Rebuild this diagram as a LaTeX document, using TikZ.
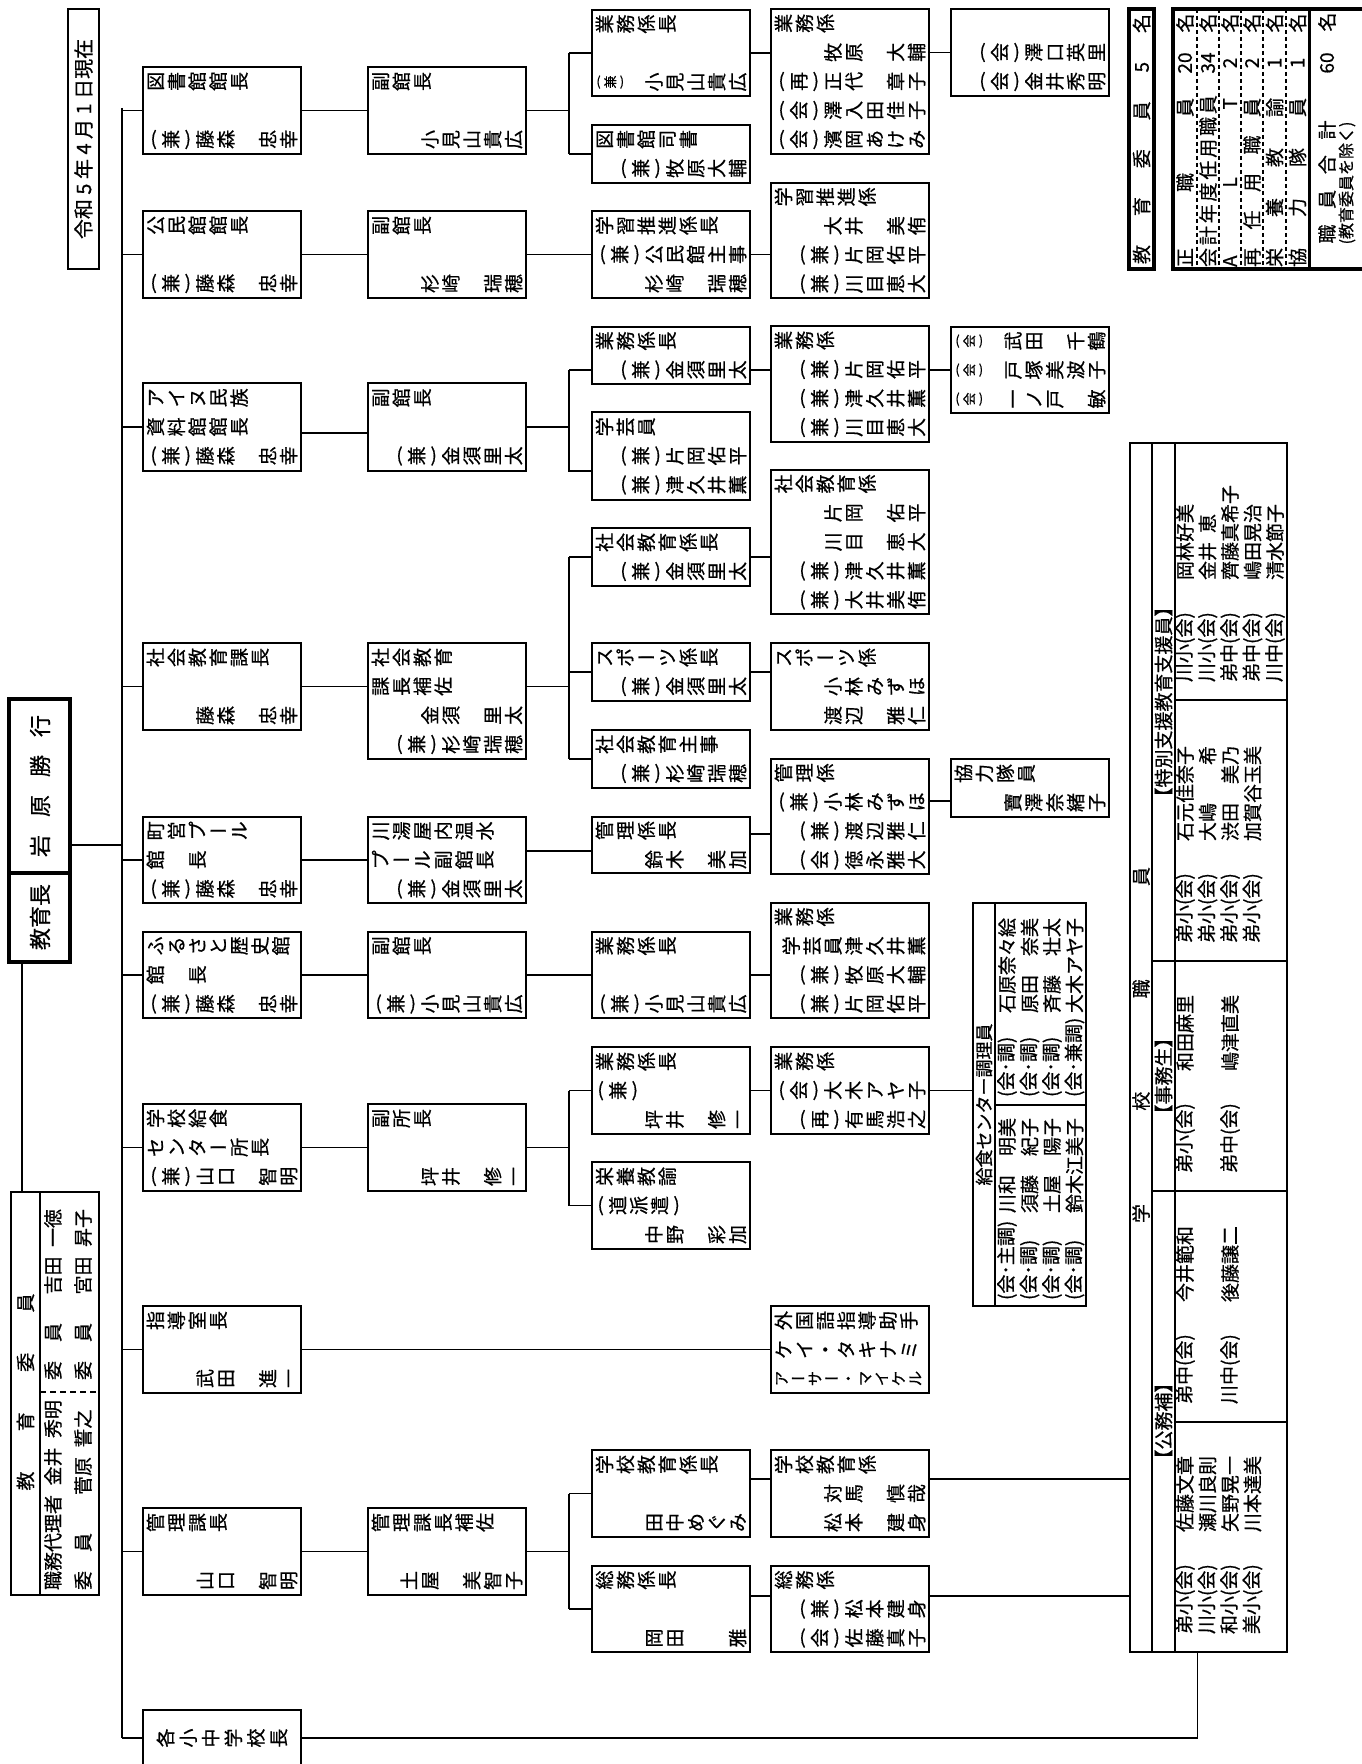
\documentclass[tikz,border=0pt]{standalone}
\usepackage{fontspec}
\setmainfont{Noto Sans CJK JP}
\newfontfamily\jp[FakeBold=0.6]{Noto Sans CJK JP}
\usepackage{graphicx}
\usetikzlibrary{calc}
\tikzset{
  bx/.style={draw,line width=0.65pt,anchor=north west,inner xsep=1pt,inner ysep=0pt,
    outer sep=0pt,text width=77pt,align=left,
    font=\jp\fontsize{9.5pt}{14.5pt}\selectfont},
  boxh/.style={minimum height={#1*0.5pt}},
  boxw/.style={minimum width={#1*0.5pt}},
  rt/.style={rotate=90,inner sep=0pt,outer sep=0pt,font=\jp\fontsize{9.5pt}{11pt}\selectfont},
  rl/.style={rt,anchor=west},
  frame/.style={draw,line width=0.65pt,anchor=north west,inner sep=0pt,outer sep=0pt},
  heavy/.style={line width=2pt},
  link/.style={line width=0.65pt},
  sep/.style={line width=1pt,dash pattern=on 2pt off 1.5pt},
  dn/.style={yshift={-(#1)*0.5pt}},
}
% glyphs turned a quarter, set one by one
\makeatletter
\newcommand\vtw{1.1em}
\newcommand\vt[2][1.1em]{\leavevmode\def\vtw{#1}\rule[-0.5em]{0pt}{1em}\vt@loop#2\vt@end}
\def\vt@end{}
\def\vt@loop#1{\ifx#1\vt@end\else\vt@one{#1}\expandafter\vt@loop\fi}
\def\vt@one#1{%
  \ifx#1（\vt@par{(}%
  \else\ifx#1）\vt@par{)}%
  \else\ifx#1ー\vt@flat{ー}%
  \else\ifx#1・\vt@flat{・}%
  \else\vt@rot{#1}%
  \fi\fi\fi\fi}
\def\vt@rot#1{\makebox[\vtw]{\raisebox{-0.5em}{\rotatebox{90}{\rule[-0.12em]{0pt}{1em}#1}}}}
\def\vt@flat#1{\makebox[\vtw]{\raisebox{-0.38em}{#1}}}
\def\vt@par#1{\makebox[0.7em]{\raisebox{-0.32em}{#1}}}
\makeatother
\newcommand\vtr[2][1.1em]{\mbox{}\hfill\vt[#1]{#2}}
\newcommand\vts[1]{\mbox{}{\fontsize{6.5pt}{7pt}\selectfont\vt{#1}}}

\begin{document}
\begin{tikzpicture}[x=0.5pt,y=-0.5pt]
\useasboundingbox (0,0) rectangle (1361,1764);
\fill[white] (0,0) rectangle (1361,1764);

% heads
\node[rt,draw,link,minimum width=130pt,minimum height=15.5pt,
  font=\jp\fontsize{10pt}{12pt}\selectfont] (date) at (83.5,139) {令和 5 年 4 月 1 日現在};
\node[frame,heavy,boxw=61,boxh=263] (kyo) at (9,699) {};
\draw[line width=1.6pt] (9,873) -- (70,873);
\node[rt,font=\jp\fontsize{11pt}{12pt}\selectfont] (kyoname) at (40,786)
  {\makebox[71pt][s]{岩 原 勝 行}};
\node[rt,font=\jp\fontsize{11pt}{12pt}\selectfont] (kyotitle) at (40,917) {教育長};

% board of education
\node[frame,boxw=88,boxh=403] (iin) at (11,1192) {};
\draw[link] (40,1192) -- (40,1595);
\draw[line width=1.2pt,dash pattern=on 3pt off 2pt] (40,1392) -- (99,1392);
\node[rt] (iinlbl) at (25.5,1392) {\makebox[98.5pt][s]{教 育 委 員}};
\node[rl] (iin1) at (53,1590) {職務代理者\enspace 金井\enspace 秀明};
\node[rl] (iin2) at (83,1590) {委　員　　菅原\enspace 誓之};
\node[rl] (iin3) at (53,1380) {委　員　\enspace 吉田\enspace 一徳};
\node[rl] (iin4) at (83,1380) {委　員　\enspace 宮田\enspace 昇子};

% first level
\node[bx,boxh=87] (lib1) at (143,67) {\vt{図書館館長}\\\vt{}\\\vtr{（兼）藤森　忠幸}};
\node[bx,boxh=87] (kou1) at (143,211) {\vt{公民館館長}\\\vt{}\\\vtr{（兼）藤森　忠幸}};
\node[bx,boxh=88] (ainu1) at (143,383) {\vt{アイヌ民族}\\\vt{資料館館長}\\\vtr{（兼）藤森　忠幸}};
\node[bx,boxh=87] (soc1) at (143,643) {\vt{社会教育課長}\\\vt{}\\\vtr{藤森　忠幸}};
\node[bx,boxh=86] (pool1) at (143,817) {\vt{町営プール}\\\vt{館　長}\\\vtr{（兼）藤森　忠幸}};
\node[bx,boxh=86] (furu1) at (143,932) {\vt{ふるさと歴史館}\\\vt{館　長}\\\vtr{（兼）藤森　忠幸}};
\node[bx,boxh=87] (kyu1) at (143,1104) {\vt{学校給食}\\\vt{センター所長}\\\vtr{（兼）山口　智明}};
\node[bx,boxh=87] (shi1) at (143,1306) {\vt{指導室長}\\\vt{}\\\vtr{武田　進一}};
\node[bx,boxh=87] (kan1) at (143,1508) {\vt{管理課長}\\\vt{}\\\vtr{山口　智明}};
\node[bx,boxh=56,align=center] (sch1) at (143,1710) {\vt[1.19em]{各小中学校長}};

% second level
\node[bx,boxh=87] (lib2) at (368,67) {\vt{副館長}\\\vt{}\\\vtr{小見山貴広}};
\node[bx,boxh=87] (kou2) at (368,211) {\vt{副館長}\\\vt{}\\\vtr{杉崎　瑞穂}};
\node[bx,boxh=88] (ainu2) at (368,383) {\vt{副館長}\\\vt{}\\\vtr{（兼）金須里太}};
\node[bx,boxh=116] (soc2) at (368,643) {\vt{社会教育}\\\vt{課長補佐}\\\vtr{金須　里太}\\\vtr{（兼）杉崎瑞穂}};
\node[bx,boxh=86] (pool2) at (368,817) {\vt{川湯屋内温水}\\\vt{プール副館長}\\\vtr{（兼）金須里太}};
\node[bx,boxh=86] (furu2) at (368,932) {\vt{副館長}\\\vt{}\\\vtr{（兼）小見山貴広}};
\node[bx,boxh=87] (kyu2) at (368,1104) {\vt{副所長}\\\vt{}\\\vtr{坪井　修一}};
\node[bx,boxh=87] (kan2) at (368,1508) {\vt{管理課長補佐}\\\vt{}\\\vtr{土屋　美智子}};

% third level
\node[bx,boxh=86] (lib3a) at (592,10) {\vt{業務係長}\\\vt{}\\\vts{（兼）}\hfill\vt{小見山貴広}};
\node[bx,boxh=58] (lib3b) at (592,125) {\vt{図書館司書}\\\vtr{（兼）牧原大輔}};
\node[bx,boxh=87] (kou3) at (592,211) {\vt{学習推進係長}\\\vtr{（兼）公民館主事}\\\vtr{杉崎　瑞穂}};
\node[bx,boxh=57] (ainu3a) at (592,327) {\vt{業務係長}\\\vtr{（兼）金須里太}};
\node[bx,boxh=88] (ainu3b) at (592,412) {\vt{学芸員}\\\vtr{（兼）片岡佑平}\\\vtr{（兼）津久井薫}};
\node[bx,boxh=58] (soc3a) at (592,528) {\vt{社会教育係長}\\\vtr{（兼）金須里太}};
\node[bx,boxh=58] (soc3b) at (592,643) {\vt{スポーツ係長}\\\vtr{（兼）金須里太}};
\node[bx,boxh=58] (soc3c) at (592,730) {\vt{社会教育主事}\\\vtr{（兼）杉崎瑞穂}};
\node[bx,boxh=56] (pool3) at (592,817) {\vt{管理係長}\\\vtr{鈴木　美加}};
\node[bx,boxh=86] (furu3) at (592,932) {\vt{業務係長}\\\vt{}\\\vtr{（兼）小見山貴広}};
\node[bx,boxh=87] (kyu3a) at (592,1047) {\vt{業務係長}\\\vt{（兼）}\\\vtr{坪井　修一}};
\node[bx,boxh=87] (kyu3b) at (592,1162) {\vt{栄養教諭}\\\vt{（道派遣）}\\\vtr{中野　彩加}};
\node[bx,boxh=87] (kan3a) at (592,1450) {\vt{学校教育係長}\\\vt{}\\\vtr{田中めぐみ}};
\node[bx,boxh=86] (kan3b) at (592,1566) {\vt{総務係長}\\\vt{}\\\vtr{岡田　　雅}};

% fourth level
\node[bx,boxh=145] (lib4) at (771,9) {\vt{業務係}\\\vtr{牧原　大輔}\\\vtr{（再）正代　章子}\\\vtr{（会）澤入田佳子}\\\vtr{（会）濱岡あけみ}};
\node[bx,boxh=115] (kou4) at (771,183) {\vt{学習推進係}\\\vtr{大井　美侑}\\\vtr{（兼）片岡佑平}\\\vtr{（兼）川目恵大}};
\node[bx,boxh=116] (ainu4) at (771,326) {\vt{業務係}\\\vtr{（兼）片岡佑平}\\\vtr{（兼）津久井薫}\\\vtr{（兼）川目恵大}};
\node[bx,boxh=144] (soc4) at (771,470) {\vt{社会教育係}\\\vtr{片岡　佑平}\\\vtr{川目　恵大}\\\vtr{（兼）津久井薫}\\\vtr{（兼）大井美侑}};
\node[bx,boxh=87] (spo4) at (771,643) {\vt{スポーツ係}\\\vtr{小林みずほ}\\\vtr{渡辺　雅仁}};
\node[bx,boxh=115] (pool4) at (771,759) {\vt{管理係}\\\vtr{（兼）小林みずほ}\\\vtr{（兼）渡辺雅仁}\\\vtr{（会）徳永雅大}};
\node[bx,boxh=115] (furu4) at (771,903) {\vt{業務係}\\\vtr{学芸員津久井薫}\\\vtr{（兼）牧原大輔}\\\vtr{（兼）片岡佑平}};
\node[bx,boxh=87] (kyu4) at (771,1047) {\vt{業務係}\\\vtr{（会）大木アヤ子}\\\vtr{（再）有馬浩之}};
\node[bx,boxh=87] (alt4) at (771,1306) {\vt{外国語指導助手}\\\vt{ケイ・タキナミ}\\\vt{}{\fontsize{7.6pt}{7.6pt}\selectfont\vt{アーサー・マイケル}}};
\node[bx,boxh=87] (kan4a) at (771,1450) {\vt{学校教育係}\\\vtr{対馬　慎哉}\\\vtr{松本　建身}};
\node[bx,boxh=86] (kan4b) at (771,1566) {\vt{総務係}\\\vtr{（兼）松本建身}\\\vtr{（会）佐藤真子}};

% fifth level
\node[bx,boxh=87] (lib5) at (951,9) {\vt{}\\\vtr{（会）澤口英里}\\\vtr{（会）金井秀明}};
\node[bx,boxh=86] (ainu5) at (951,327) {\vts{（会）}\hfill\vt{武田　千鶴}\\\vts{（会）}\hfill\vt{戸塚美波子}\\\vts{（会）}\hfill\vt{一ノ戸　敏}};
\node[bx,boxh=58] (pool5) at (951,759) {\vt{協力隊員}\\\vtr{寶澤奈緒子}};

% school lunch cooks
\node[frame,boxw=113,boxh=403] (chori) at (973,903) {};
\draw[link] (995,903) -- (995,1306);
\draw[link] (995,1105) -- (1086,1105);
\node[rt,font=\jp\fontsize{9pt}{11pt}\selectfont] (chorilbl) at (984,1104.5) {給食センター調理員};
\node[rl] (cu1) at (1007,1097) {(会･調)};    \node[rl] (cu1n) at (1007,1013) {石原奈々絵};
\node[rl] (cu2) at (1029.5,1097) {(会･調)};  \node[rl] (cu2n) at (1029.5,1013) {原田　奈美};
\node[rl] (cu3) at (1052,1097) {(会･調)};    \node[rl] (cu3n) at (1052,1013) {斉藤　壮太};
\node[rl] (cu4) at (1074.5,1097) {(会･兼調)}; \node[rl] (cu4n) at (1074.5,1013) {大木アヤ子};
\node[rl] (cl1) at (1007,1300) {(会･主調)};  \node[rl] (cl1n) at (1007,1213) {川和　明美};
\node[rl] (cl2) at (1029.5,1300) {(会･調)};  \node[rl] (cl2n) at (1029.5,1213) {須藤　紀子};
\node[rl] (cl3) at (1052,1300) {(会･調)};    \node[rl] (cl3n) at (1052,1213) {土屋　陽子};
\node[rl] (cl4) at (1074.5,1300) {(会･調)};  \node[rl] (cl4n) at (1074.5,1213) {鈴木江美子};

% school staff
\node[frame,boxw=157,boxh=1209] (school) at (1130,443) {};
\draw[link] (1152,443) -- (1152,1652);
\draw[link] (1175,443) -- (1175,1652);
\draw[link] (1152,961) -- (1287,961);
\draw[link] (1152,1191) -- (1287,1191);
\draw[link] (1175,700) -- (1287,700);
\draw[link] (1175,1422) -- (1287,1422);
\node[rt] (schlbl) at (1141,1045) {\makebox[178pt][s]{学 校 職 員}};
\node[rt] (grp1) at (1163.5,702) {【特別支援教育支援員】};
\node[rt] (grp2) at (1163.5,1076) {【事務生】};
\node[rt] (grp3) at (1163.5,1421) {【公務補】};
\node[rl] (sa1) at (1185,682) {川小(会)};   \node[rl] (sa1n) at (1185,580) {岡林好美};
\node[rl] (sa2) at (1207.5,682) {川小(会)}; \node[rl] (sa2n) at (1207.5,580) {金井\hspace{4.5pt}恵};
\node[rl] (sa3) at (1230,682) {弟中(会)};   \node[rl] (sa3n) at (1230,580) {齊藤真希子};
\node[rl] (sa4) at (1252.5,682) {弟中(会)}; \node[rl] (sa4n) at (1252.5,580) {嶋田晃治};
\node[rl] (sa5) at (1275,682) {川中(会)};   \node[rl] (sa5n) at (1275,580) {清水節子};
\node[rl] (sb1) at (1185,943) {弟小(会)};   \node[rl] (sb1n) at (1185,841) {石元佳奈子};
\node[rl] (sb2) at (1207.5,943) {弟小(会)}; \node[rl] (sb2n) at (1207.5,841) {大嶋　　希};
\node[rl] (sb3) at (1230,943) {弟小(会)};   \node[rl] (sb3n) at (1230,841) {渋田　美乃};
\node[rl] (sb4) at (1252.5,943) {弟小(会)}; \node[rl] (sb4n) at (1252.5,841) {加賀谷玉美};
\node[rl] (sc1) at (1185,1173) {弟小(会)};  \node[rl] (sc1n) at (1185,1071) {和田麻里};
\node[rl] (sc2) at (1230,1173) {弟中(会)};  \node[rl] (sc2n) at (1230,1071) {嶋津直美};
\node[rl] (sd1) at (1185,1404) {弟中(会)};  \node[rl] (sd1n) at (1185,1302) {今井範和};
\node[rl] (sd2) at (1230,1404) {川中(会)};  \node[rl] (sd2n) at (1230,1302) {後藤譲二};
\node[rl] (se1) at (1185,1634) {弟小(会)};  \node[rl] (se1n) at (1185,1532) {佐藤文章};
\node[rl] (se2) at (1207.5,1634) {川小(会)};\node[rl] (se2n) at (1207.5,1532) {瀬川良則};
\node[rl] (se3) at (1230,1634) {和小(会)};  \node[rl] (se3n) at (1230,1532) {矢野晃一};
\node[rl] (se4) at (1252.5,1634) {美小(会)};\node[rl] (se4n) at (1252.5,1532) {川本達美};

% staff count
\node[rt,draw,heavy,minimum width=130pt,minimum height=12.5pt] (iin5) at (1141.5,139)
  {\makebox[125pt][s]{教 育 委 員 5 名}};
\node[frame,heavy,boxw=193,boxh=260] (staff) at (1173,9) {};
\draw[sep] (1197,9) -- (1197,269);
\draw[sep] (1219,9) -- (1219,269);
\draw[sep] (1241,9) -- (1241,269);
\draw[sep] (1263,9) -- (1263,269);
\draw[sep] (1286,9) -- (1286,269);
\draw[line width=1.5pt] (1309,9) -- (1309,269);
\node[rt] (st1) at (1185,182.5) {\makebox[84.5pt][s]{正 職 員}};
\node[rt] (st1n) at (1185,63) {20};   \node[rt] (st1u) at (1185,23) {名};
\node[rt] (st2) at (1208,182.5) {\makebox[84.5pt][s]{会 計 年 度 任 用 職 員}};
\node[rt] (st2n) at (1208,63) {34};   \node[rt] (st2u) at (1208,23) {名};
\node[rt] (st3) at (1230,182.5) {\makebox[84.5pt][s]{A L T}};
\node[rt] (st3n) at (1230,63) {2};    \node[rt] (st3u) at (1230,23) {名};
\node[rt] (st4) at (1252,182.5) {\makebox[84.5pt][s]{再 任 用 職 員}};
\node[rt] (st4n) at (1252,63) {2};    \node[rt] (st4u) at (1252,23) {名};
\node[rt] (st5) at (1274.5,182.5) {\makebox[84.5pt][s]{栄 養 教 諭}};
\node[rt] (st5n) at (1274.5,63) {1};  \node[rt] (st5u) at (1274.5,23) {名};
\node[rt] (st6) at (1297.5,182.5) {\makebox[84.5pt][s]{協 力 隊 員}};
\node[rt] (st6n) at (1297.5,63) {1};  \node[rt] (st6u) at (1297.5,23) {名};
\node[rt] (st7) at (1327,182) {\makebox[61.5pt][s]{職 員 合 計}};
\node[rt] (st7n) at (1327,63) {60};   \node[rt] (st7u) at (1327,22) {名};
\node[rt,font=\jp\fontsize{8pt}{9pt}\selectfont] (st7x) at (1347,183) {(教育委員を除く)};

% connectors
\coordinate (trunk) at (122,108);
\draw[link] (trunk) -- (trunk |- sch1.west);
\draw[link] (trunk |- lib1.west) -- (lib1.west);
\draw[link] (trunk |- kou1.west) -- (kou1.west);
\draw[link] (trunk |- ainu1.west) -- (ainu1.west);
\draw[link] (trunk |- soc1.west) -- (soc1.west);
\draw[link] (trunk |- pool1.west) -- (pool1.west);
\draw[link] (trunk |- furu1.west) -- (furu1.west);
\draw[link] (trunk |- kyu1.west) -- (kyu1.west);
\draw[link] (trunk |- shi1.west) -- (shi1.west);
\draw[link] (trunk |- kan1.west) -- (kan1.west);
\draw[link] (trunk |- sch1.west) -- (sch1.west);
\coordinate (kyoj) at ([dn=14.5]kyo.east);
\draw[link] (kyoj) -- (trunk |- kyoj);
\draw[link] ([xshift=-8.75pt]kyo.south) -- ([xshift=-8.75pt]kyo.south |- iin.north);

\draw[link] (lib1.east) -- (lib2.west);
\draw[link] (lib2.east) -- ++(43,0) coordinate (libB);
\draw[link] (libB |- lib3a.west) -- (libB |- lib3b.west);
\draw[link] (libB |- lib3a.west) -- (lib3a.west);
\draw[link] (libB |- lib3b.west) -- (lib3b.west);
\draw[link] (lib3a.east) -- (lib3a.east -| lib4.west);
\draw[link] (lib5.west -| lib4.east) -- (lib5.west);

\draw[link] (kou1.east) -- (kou2.west);
\draw[link] (kou2.east) -- (kou3.west);
\draw[link] (kou3.east) -- (kou3.east -| kou4.west);

\draw[link] ([dn=6]ainu1.east) -- ([dn=6]ainu2.west);
\draw[link] (ainu2.east) -- ++(43,0) coordinate (ainuB);
\coordinate (ainuJ) at (ainu5.west);
\coordinate (ainuK) at ([dn=15]ainu3b.west);
\draw[link] (ainuB |- ainuJ) -- (ainuB |- ainuK) -- (ainuK);
\draw[link] (ainuB |- ainuJ) -- (ainuJ -| ainu3a.west);
\draw[link] (ainuJ -| ainu3a.east) -- (ainuJ -| ainu4.west);
\draw[link] (ainuJ -| ainu4.east) -- (ainuJ);

\draw[link] (soc1.east) -- (soc1.east -| soc2.west);
\draw[link] (soc1.east -| soc2.east) -- ++(43,0) coordinate (socB);
\draw[link] (socB |- soc3a.west) -- (socB |- soc3c.west);
\draw[link] (socB |- soc3a.west) -- (soc3a.west);
\draw[link] (socB |- soc3b.west) -- (soc3b.west);
\draw[link] (socB |- soc3c.west) -- (soc3c.west);
\draw[link] (soc3a.east) -- (soc3a.east -| soc4.west);
\draw[link] (soc3b.east) -- (soc3b.east -| spo4.west);

\draw[link] (pool1.east) -- (pool1.east -| pool2.west);
\coordinate (poolJ) at ([dn=6]pool3.west);
\draw[link] (poolJ -| pool2.east) -- (poolJ);
\coordinate (poolK) at ([dn=-11]pool3.east);
\draw[link] (poolK) -- (poolK -| pool4.west);
\coordinate (poolL) at ([dn=13]pool5.west);
\draw[link] (poolL -| pool4.east) -- (poolL);

\draw[link] (furu1.east) -- (furu2.west);
\draw[link] (furu2.east) -- (furu3.west);
\draw[link] (furu3.east) -- (furu3.east -| furu4.west);

\draw[link] (kyu1.east) -- (kyu2.west);
\draw[link] (kyu2.east) -- ++(43,0) coordinate (kyuB);
\draw[link] (kyuB |- kyu3a.west) -- (kyuB |- kyu3b.west);
\draw[link] (kyuB |- kyu3a.west) -- (kyu3a.west);
\draw[link] (kyuB |- kyu3b.west) -- (kyu3b.west);
\draw[link] (kyu3a.east) -- (kyu4.west);
\draw[link] (kyu4.east) -- (kyu4.east -| chori.west);

\draw[link] (shi1.east) -- (alt4.west);

\draw[link] (kan1.east) -- (kan2.west);
\draw[link] (kan2.east) -- ++(43,0) coordinate (kanBr);
\draw[link] (kanBr |- kan3a.west) -- (kanBr |- kan3b.west);
\draw[link] (kanBr |- kan3a.west) -- (kan3a.west);
\draw[link] (kanBr |- kan3b.west) -- (kan3b.west);
\coordinate (kanA) at ([dn=-14.5]kan4a.east);
\coordinate (kanB) at ([dn=-13]kan4b.east);
\draw[link] (kanA -| kan3a.east) -- (kanA -| kan4a.west);
\draw[link] (kanB -| kan3b.east) -- (kanB -| kan4b.west);
\draw[link] (kanA) -- (kanA -| school.west);
\draw[link] (kanB) -- (kanB -| school.west);
\draw[link] (sch1.east) -| ([xshift=-5.5pt]school.south);
\end{tikzpicture}
\end{document}
